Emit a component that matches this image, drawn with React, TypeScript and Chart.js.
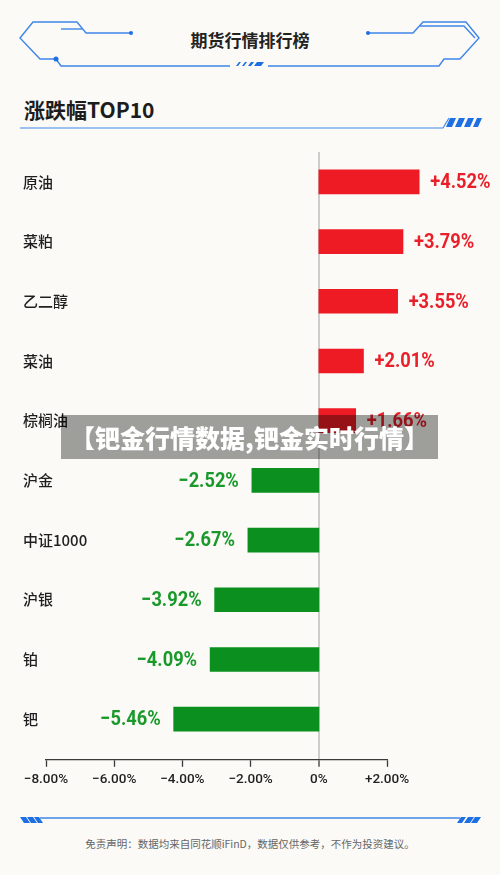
import React, { useEffect, useRef } from 'react';
import { Chart, registerables } from 'chart.js';

Chart.register(...registerables);

// ---- data ----
const categories = ['原油', '菜粕', '乙二醇', '菜油', '棕榈油', '沪金', '中证1000', '沪银', '铂', '钯'];
const changes = [4.52, 3.79, 3.55, 2.01, 1.66, -2.52, -2.67, -3.92, -4.09, -5.46];
const changeLabels = ['+4.52%', '+3.79%', '+3.55%', '+2.01%', '+1.66%', '−2.52%', '−2.67%', '−3.92%', '−4.09%', '−5.46%'];
const axisTicks = [-8, -6, -4, -2, 0, 2];
const axisTickLabels = ['−8.00%', '−6.00%', '−4.00%', '−2.00%', '0%', '+2.00%'];

const RED = '#ee1b24';
const GREEN = '#0b8f1f';
const RED_TEXT = '#e9202a';
const GREEN_TEXT = '#1a992b';
const NUM_FONT = 'Roboto, "Noto Sans", sans-serif';
const CJK_FONT = '"Noto Sans CJK SC", "Noto Sans", sans-serif';

const posData = changes.map((v, i) => ({ x: v, y: i })).filter((d) => d.x >= 0);
const negData = changes.map((v, i) => ({ x: v, y: i })).filter((d) => d.x < 0);

const Y_MIN = -0.5;
const Y_MAX = 9.68;

const labelPlugin = {
  id: 'barLabels',
  afterDatasetsDraw(chart: any) {
    const ctx = chart.ctx;
    const yScale = chart.scales.y;
    ctx.save();
    ctx.textBaseline = 'middle';
    ctx.font = '500 15px ' + CJK_FONT;
    ctx.fillStyle = '#1f1f1f';
    ctx.textAlign = 'left';
    categories.forEach((c, i) => {
      ctx.fillText(c, 23, yScale.getPixelForValue(i));
    });
    chart.data.datasets.forEach((ds: any, di: number) => {
      const meta = chart.getDatasetMeta(di);
      meta.data.forEach((el: any, j: number) => {
        const idx = ds.data[j].y;
        const pos = changes[idx] >= 0;
        ctx.save();
        ctx.font = 'bold 21px ' + NUM_FONT;
        ctx.fillStyle = pos ? RED_TEXT : GREEN_TEXT;
        ctx.textAlign = pos ? 'left' : 'right';
        ctx.translate(pos ? el.x + 11 : el.x - 13, el.y + 1);
        ctx.scale(0.87, 1);
        ctx.fillText(changeLabels[idx], 0, 0);
        ctx.restore();
      });
    });
    ctx.restore();
  },
};

function BarChart() {
  const ref = useRef<HTMLCanvasElement | null>(null);
  useEffect(() => {
    if (!ref.current) return;
    const chart = new Chart(ref.current, {
      type: 'bar',
      data: {
        datasets: [
          {
            data: posData as any,
            xAxisID: 'xp',
            yAxisID: 'y',
            backgroundColor: RED,
            borderWidth: 0,
            barThickness: 24,
            grouped: false,
            clip: false,
          } as any,
          {
            data: negData as any,
            xAxisID: 'xn',
            yAxisID: 'y',
            backgroundColor: GREEN,
            borderWidth: 0,
            barThickness: 24,
            grouped: false,
            clip: false,
          } as any,
        ],
      },
      options: {
        indexAxis: 'y',
        responsive: false,
        animation: false,
        devicePixelRatio: 1,
        layout: { padding: { left: 46, right: 113, top: 12, bottom: 7 } },
        plugins: { legend: { display: false }, tooltip: { enabled: false } },
        scales: {
          x: {
            type: 'linear',
            position: 'bottom',
            min: -8,
            max: 2,
            afterBuildTicks: (s: any) => {
              s.ticks = axisTicks.map((v) => ({ value: v }));
            },
            ticks: {
              callback: (_v: any, i: number) => axisTickLabels[i],
              color: '#1f1f1f',
              font: { family: NUM_FONT, size: 13.5, weight: '500' },
              padding: 5,
              maxRotation: 0,
              autoSkip: false,
            },
            grid: {
              color: (c: any) => (c.tick && c.tick.value === 0 ? '#cdcdcd' : 'rgba(0,0,0,0)'),
              lineWidth: (c: any) => (c.tick && c.tick.value === 0 ? 2 : 1),
              tickColor: '#3a3a3a',
              tickWidth: 1.3,
              tickLength: 7,
              drawOnChartArea: true,
            },
            border: { display: true, color: '#3a3a3a', width: 1.3 },
          },
          xp: { type: 'linear', axis: 'x', position: 'bottom', display: false, min: -12.29, max: 3.07, grace: 0, bounds: 'data' },
          xn: { type: 'linear', axis: 'x', position: 'bottom', display: false, min: -10.26, max: 2.56, grace: 0, bounds: 'data' },
          y: {
            type: 'linear',
            axis: 'y',
            position: 'left',
            reverse: true,
            min: Y_MIN,
            max: Y_MAX,
            offset: false,
            grace: 0,
            bounds: 'data',
            display: false,
          },
        } as any,
      },
      plugins: [labelPlugin],
    } as any);
    return () => chart.destroy();
  }, []);
  return (
    <canvas
      ref={ref}
      width={500}
      height={660}
      style={{ position: 'absolute', left: 0, top: 140, width: 500, height: 660 }}
    />
  );
}

const BLUE = '#3f86ea';
const BLUE_DARK = '#1d6fe3';

function Header() {
  return (
    <svg width={500} height={140} style={{ position: 'absolute', left: 0, top: 0 }}>
      <g fill="none" stroke={BLUE} strokeWidth={1.4}>
        <polyline points="131,33 86,33 77,22 33,22 20,38 40,59 56,59 61,66 230,66" />
        <polyline points="61,29 82,29" />
        <polyline points="268,66 439,66 444,59 460,59 479,38 466,22 423,22 413,33 368,33" />
        <polyline points="420,26 464,26 475,38" />
        <polyline points="20,128 443,128 449,118" strokeWidth={1.2} />
      </g>
      <circle cx={131} cy={33} r={2} fill={BLUE_DARK} />
      <circle cx={56} cy={59} r={2.5} fill={BLUE_DARK} />
      <circle cx={368} cy={33} r={2} fill={BLUE_DARK} />
      <g fill={BLUE_DARK}>
        <polygon points="236,66 238,66 241,62 239,62" />
        <polygon points="242,66 244,66 247,62 245,62" />
        <polygon points="248,66 251,66 254,62 251,62" />
        <polygon points="254,66 261,66 264,62 257,62" />
      </g>
      <g fill={BLUE_DARK}>
        <polygon points="446,127 452,127 456,118 450,118" />
        <polygon points="455,127 461,127 465,118 459,118" />
        <polygon points="464,127 470,127 474,118 468,118" />
        <polygon points="473,127 478,127 482,118 477,118" />
      </g>
    </svg>
  );
}

function Footer() {
  return (
    <svg width={500} height={40} style={{ position: 'absolute', left: 0, top: 805 }}>
      <polyline points="40,13 460,13" fill="none" stroke={BLUE} strokeWidth={1.3} />
      <g fill={BLUE_DARK}>
        <polygon points="20,12 26,12 30,18 24,18" />
        <polygon points="27,12 33,12 37,18 31,18" />
        <polygon points="34,12 39,12 43,18 38,18" />
        <polygon points="457,18 462,18 466,12 461,12" />
        <polygon points="464,18 470,18 474,12 468,12" />
        <polygon points="471,18 477,18 481,12 475,12" />
      </g>
    </svg>
  );
}

export default function App() {
  return (
    <div
      style={{
        position: 'absolute',
        left: 0,
        top: 0,
        width: 500,
        height: 875,
        background: '#fbfaf6',
        overflow: 'hidden',
        fontFamily: CJK_FONT,
      }}
    >
      <Header />
      <div
        style={{
          position: 'absolute',
          left: 0,
          top: 28,
          width: 500,
          height: 24,
          lineHeight: '24px',
          textAlign: 'center',
          fontSize: 17,
          fontWeight: 700,
          color: '#222',
        }}
      >
        期货行情排行榜
      </div>
      <div
        style={{
          position: 'absolute',
          left: 24,
          top: 95,
          height: 28,
          lineHeight: '28px',
          fontSize: 21,
          fontWeight: 700,
          color: '#1c1c1c',
        }}
      >
        涨跌幅TOP10
      </div>
      <BarChart />
      <Footer />
      <div
        style={{
          position: 'absolute',
          left: 0,
          top: 836,
          width: 500,
          height: 16,
          lineHeight: '16px',
          textAlign: 'center',
          fontSize: 10.5,
          color: '#666',
        }}
      >
        免责声明：数据均来自同花顺iFinD，数据仅供参考，不作为投资建议。
      </div>
      <div
        style={{
          position: 'absolute',
          left: 61,
          top: 415,
          width: 377,
          height: 44,
          lineHeight: '44px',
          textAlign: 'center',
          background: 'rgba(0,0,0,0.37)',
          color: '#ffffff',
          fontSize: 25,
          fontWeight: 900,
          zIndex: 5,
        }}
      >
        【钯金行情数据,钯金实时行情】
      </div>
    </div>
  );
}
